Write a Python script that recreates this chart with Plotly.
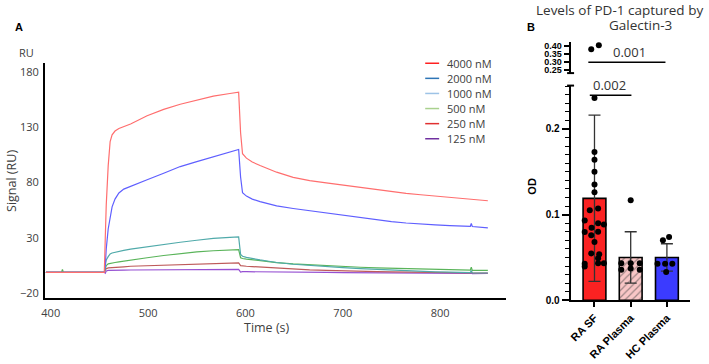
import plotly.graph_objects as go

W, H = 709, 364


def px(x):
    return x / W


def py(y):
    return 1 - y / H


# ---------------- Panel A : SPR sensorgram ----------------
time_s = [395, 411, 412, 413, 455, 456, 457, 459, 461, 463, 466, 470, 475, 482, 499,
          516, 533, 550, 567, 584, 592, 593, 595, 597, 601, 607, 615, 624, 632, 649,
          666, 683, 700, 718, 735, 750, 765, 780, 795, 810, 825, 831, 832, 833, 849]

sig_4000 = [-1.2, -1.2, -1.2, -1.2, -1.2, 30, 60, 95, 117, 123, 126.5, 128.8, 130.5, 132.9, 140.3,
            146, 150.7, 154.5, 158, 160.4, 161.6, 161.6, 125, 106, 102, 98.5, 95.3, 92.2, 89.3, 84.6,
            81.6, 79.6, 77.5, 75.6, 73.2, 71.5, 70.1, 68.9, 67.7, 66.5, 65.4, 64.9, 64.9, 64.8, 63.5]
sig_2000 = [-1.2, -1.2, -1.2, -1.2, -1.2, 5, 20, 38, 50, 58, 65, 70.5, 74, 76.6, 82.5,
            88.4, 94.4, 98.8, 103.3, 107.1, 109.5, 109.8, 85, 70.7, 67.7, 65, 62.7, 60.5, 58.8, 56.5,
            54.5, 52.3, 50.3, 48.2, 46.2, 44.6, 43.4, 42.4, 41.7, 41.1, 40.6, 40.4, 43, 40.2, 39]
sig_1000 = [-1.2, -1.2, -1.2, -1.2, -1.2, 5, 10, 13, 15.5, 16.3, 17, 17.8, 18.6, 19.8, 22.0,
            24.2, 26.0, 27.8, 29.5, 30.4, 30.8, 30.8, 15, 13.3, 12.4, 11.2, 10.0, 8.8, 7.7, 6.1,
            4.9, 3.9, 3, 2.1, 1.4, 0.8, 0.2, -0.3, -0.7, -1, -1.3, -1.4, 0.5, -1.6, -1.8]
sig_500 = [-1.2, -1.2, 1.5, -1.2, -1.2, 3, 5, 6.5, 7, 7.3, 7.7, 8.3, 9, 9.9, 12,
           14, 15.7, 17.3, 18.3, 19, 19.4, 19.4, 12, 11.3, 10.8, 10.1, 9.3, 8.4, 7.6, 6.4,
           5.5, 4.7, 4.0, 3.4, 2.9, 2.5, 2.1, 1.8, 1.5, 1.2, 1.0, 0.9, 3.5, 0.6, 0.5]
sig_250 = [-1.2, -1.2, -1.2, -1.2, -1.2, 1, 2, 2.8, 3, 3.1, 3.2, 3.5, 3.8, 4.3, 4.8,
           5.3, 5.8, 6.3, 6.7, 7.1, 7.3, 7.3, 4.8, 4.5, 4.3, 4, 3.5, 3, 2.5, 1.8,
           1.0, 0.5, 0, -0.3, -0.6, -0.8, -1, -1.1, -1.3, -1.4, -1.5, -1.6, -1, -1.7, -1.8]
sig_125 = [-1.2, -1.2, -1.2, -1.2, -1.2, -2, 0, 0.5, 0.6, 0.7, 0.7, 0.8, 0.8, 0.9, 1.0,
           1.1, 1.2, 1.3, 1.4, 1.5, 1.5, 1.5, -1, -0.6, -0.6, -0.7, -0.8, -0.9, -1, -1.1,
           -1.2, -1.3, -1.4, -1.5, -1.6, -1.7, -1.8, -1.9, -2.0, -2.0, -2.1, -2.1, -1.5, -2.3, -2.2]

conc_labels = ["4000 nM", "2000 nM", "1000 nM", "500 nM", "250 nM", "125 nM"]
a_xticks = [400, 500, 600, 700, 800]
a_yticks = [-20, 30, 80, 130, 180]

# ---------------- Panel B : bar chart ----------------
groups = ["RA SF", "RA Plasma", "HC Plasma"]
bar_means = [0.119, 0.050, 0.050]
bar_sds = [0.097, 0.030, 0.016]

ra_sf_od = [0.406, 0.381, 0.236, 0.173, 0.164, 0.150, 0.135, 0.126, 0.107, 0.105, 0.093,
            0.0885, 0.090, 0.0846, 0.080, 0.0797, 0.0759, 0.068, 0.0547, 0.0536, 0.049,
            0.0425, 0.0433, 0.0433, 0.0395]
ra_plasma_od = [0.1168, 0.0433, 0.0433, 0.0433, 0.0356, 0.0370, 0.0356]
hc_plasma_od = [0.070, 0.074, 0.0425, 0.0425, 0.0425, 0.033]

# horizontal scatter offsets of the dots (category units)
ra_sf_jit = [0.12, -0.09, 0, 0, 0, 0, 0, 0, 0.10, -0.13, -0.27, 0.26, 0.10, -0.08, 0.10,
             -0.27, -0.09, 0, -0.09, 0.13, 0.10, -0.27, 0.10, 0.26, -0.27]
ra_plasma_jit = [0, -0.26, 0, 0.25, -0.26, 0, 0.25]
hc_plasma_jit = [-0.11, 0.06, -0.26, -0.05, 0.15, -0.02]

b_low_ticks = [0.0, 0.1, 0.2]
b_low_text = ["0.0", "0.1", "0.2"]
b_up_ticks = [0.25, 0.30, 0.35, 0.40]
b_up_text = ["0.25", "0.30", "0.35", "0.40"]
axis_break = 0.25

sig_text = ["0.001", "0.002"]

# ---------------- styles ----------------
curve_colors = ["rgb(255,110,110)", "rgb(95,95,255)", "rgb(80,170,170)",
                "rgb(90,180,90)", "rgb(190,90,90)", "rgb(150,80,210)"]
legend_colors = ["#ff2020", "#2e75b6", "#9dc3e6", "#a9d18e", "#e03030", "#7030a0"]
bar_colors = ["#fb2222", "#f8c6c6", "#3b3bff"]

sans = "Open Sans, Noto Sans, DejaVu Sans, sans-serif"
arial = "Liberation Sans, Arial, sans-serif"

fig = go.Figure()

series = [sig_4000, sig_2000, sig_1000, sig_500, sig_250, sig_125]
for vals, col in reversed(list(zip(series, curve_colors))):
    fig.add_trace(go.Scatter(x=time_s, y=vals, mode="lines", line=dict(color=col, width=1.2),
                             xaxis="x", yaxis="y", showlegend=False, hoverinfo="skip"))

fig.add_trace(go.Bar(
    x=[0, 1, 2], y=bar_means, width=0.63, xaxis="x2", yaxis="y2", showlegend=False,
    marker=dict(color=bar_colors, line=dict(color="black", width=1.6),
                pattern=dict(shape=["", "/", ""], fgcolor=["#fb2222", "#ef8f8f", "#3b3bff"],
                             size=5, solidity=0.25)),
    error_y=dict(type="data", array=bar_sds, color="#333333", thickness=1.3, width=6),
))

for gi, (vals, jit) in enumerate([(ra_sf_od, ra_sf_jit), (ra_plasma_od, ra_plasma_jit),
                                  (hc_plasma_od, hc_plasma_jit)]):
    lo = [(gi + j, v) for v, j in zip(vals, jit) if v < axis_break]
    hi = [(gi + j, v) for v, j in zip(vals, jit) if v >= axis_break]
    for pts, ya in ((lo, "y2"), (hi, "y3")):
        if pts:
            fig.add_trace(go.Scatter(x=[p[0] for p in pts], y=[p[1] for p in pts], mode="markers",
                                     marker=dict(color="black", size=6), xaxis="x2", yaxis=ya,
                                     showlegend=False, hoverinfo="skip", cliponaxis=False))

tick_a = dict(family=sans, size=11, color="#404040")
tick_b = dict(family=arial, size=10, color="black", weight="bold")
tick_b_x = dict(family=arial, size=11, color="black", weight="bold")
tick_b_up = dict(family=arial, size=9, color="black", weight="bold")

fig.update_layout(
    width=W, height=H, margin=dict(l=0, r=0, t=0, b=0),
    paper_bgcolor="white", plot_bgcolor="rgba(0,0,0,0)", showlegend=False,
    xaxis=dict(domain=[px(42), px(505)], range=[393.9, 867.5], anchor="y",
               tickvals=a_xticks, ticks="", showline=True, linecolor="black", linewidth=1.5,
               showgrid=False, zeroline=False, tickfont=tick_a, ticklabelstandoff=4),
    yaxis=dict(domain=[py(302), py(63)], range=[-24.4, 188], anchor="x",
               tickvals=a_yticks, ticks="", showline=True, linecolor="black", linewidth=1.5,
               showgrid=False, zeroline=False, tickfont=tick_a, ticklabelstandoff=2),
    xaxis2=dict(domain=[px(570), px(690)], range=[-0.66, 2.64], anchor="y2",
                tickvals=[0, 1, 2], ticktext=groups, tickangle=-45,
                ticks="outside", ticklen=5, tickwidth=1.5, tickcolor="black",
                showline=True, linecolor="black", linewidth=2,
                showgrid=False, zeroline=False, tickfont=tick_b_x),
    yaxis2=dict(domain=[py(304.3), py(86)], range=[0, 0.2506], anchor="x2",
                tickvals=b_low_ticks, ticktext=b_low_text,
                ticks="outside", ticklen=7, tickwidth=1.5, tickcolor="black",
                minor=dict(dtick=0.01, tick0=0, ticks="outside", ticklen=4, tickwidth=1.2,
                           tickcolor="black", showgrid=False),
                showline=True, linecolor="black", linewidth=2,
                showgrid=False, zeroline=False, tickfont=tick_b),
    yaxis3=dict(domain=[py(73.3), py(41.7)], range=[0.229, 0.427], anchor="x2",
                tickvals=b_up_ticks, ticktext=b_up_text,
                ticks="outside", ticklen=5, tickwidth=1.5, tickcolor="black",
                showline=True, linecolor="black", linewidth=2,
                showgrid=False, zeroline=False, tickfont=tick_b_up),
)

ann = []
shapes = []

# Panel letters and axis titles
ann.append(dict(text="<b>A</b>", x=px(16), y=py(26), font=dict(family=arial, size=11, color="black")))
ann.append(dict(text="<b>B</b>", x=px(530), y=py(26), font=dict(family=arial, size=11, color="black")))
ann.append(dict(text="RU", x=px(24), y=py(52), font=dict(family=sans, size=11, color="#404040")))
ann.append(dict(text="Signal (RU)", x=px(9), y=py(183), textangle=-90,
                font=dict(family=sans, size=12.5, color="#404040")))
ann.append(dict(text="Time (s)", x=px(265), y=py(332), font=dict(family=sans, size=12.5, color="#404040")))
ann.append(dict(text="<b>OD</b>", x=px(531), y=py(188), textangle=-90,
                font=dict(family=arial, size=11, color="black")))
ann.append(dict(text="Levels of PD-1 captured by", x=px(619), y=py(9),
                font=dict(family=sans, size=13.5, color="#333333")))
ann.append(dict(text="Galectin-3", x=px(640), y=py(24),
                font=dict(family=sans, size=13.5, color="#333333")))

# manual legend
for i, (lab, col) in enumerate(zip(conc_labels, legend_colors)):
    yy = 63.3 + i * 15.35
    shapes.append(dict(type="line", xref="paper", yref="paper", x0=px(424), x1=px(438),
                       y0=py(yy), y1=py(yy), line=dict(color=col, width=1.5)))
    ann.append(dict(text=lab, x=px(444), y=py(yy), xanchor="left",
                    font=dict(family=sans, size=11, color="#404040")))

# significance brackets
shapes.append(dict(type="line", xref="x2", yref="y3", x0=-0.17, x1=1.96, y0=0.298, y1=0.298,
                   line=dict(color="black", width=1.5)))
ann.append(dict(text=sig_text[0], xref="paper", yref="y3", x=px(629.5), y=0.298, yanchor="bottom",
                yshift=-1, font=dict(family=sans, size=13, color="#333333")))
shapes.append(dict(type="line", xref="x2", yref="y2", x0=-0.13, x1=1.02, y0=0.2394, y1=0.2394,
                   line=dict(color="black", width=1.5)))
ann.append(dict(text=sig_text[1], xref="paper", yref="y2", x=px(609.5), y=0.2394, yanchor="bottom",
                yshift=-1, font=dict(family=sans, size=13, color="#333333")))

# axis break caps
for yy in (73.3, 86):
    shapes.append(dict(type="line", xref="paper", yref="paper", x0=px(566.5), x1=px(573.5),
                       y0=py(yy), y1=py(yy), line=dict(color="black", width=2)))

for a in ann:
    a.setdefault("xref", "paper")
    a.setdefault("yref", "paper")
    a["showarrow"] = False
    a.setdefault("xanchor", "center")
    a.setdefault("yanchor", "middle")

fig.update_layout(annotations=ann, shapes=shapes)

fig.write_html("out.html", config={"displayModeBar": False},
               post_script="document.body.style.margin='0';document.body.style.overflow='hidden';")
